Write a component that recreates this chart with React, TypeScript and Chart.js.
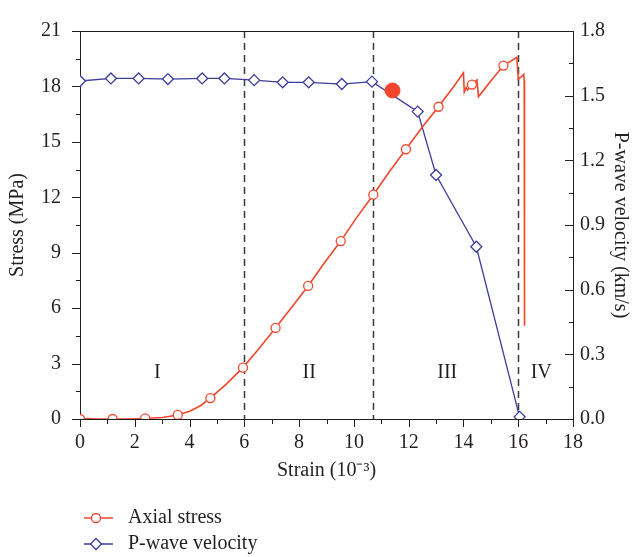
import React, { useEffect, useRef } from 'react';
import { Chart, registerables } from 'chart.js';

Chart.register(...registerables);

// ---- data ----
const stressStrain = [
  0, 0.3, 0.6, 1.19, 1.8, 2.38, 3.0, 3.57, 4.0, 4.4, 4.76, 5.35, 5.95, 6.5, 7.14, 7.7, 8.33, 8.9,
  9.52, 10.1, 10.71, 11.3, 11.9, 12.5, 13.09, 13.6, 14.0, 14.03, 14.1, 14.15, 14.31, 14.49, 14.55,
  15.0, 15.46, 15.95, 16.0, 16.1, 16.2, 16.22, 16.23,
];
const stressValues = [
  0, 0.02, 0, 0, 0, 0.03, 0.08, 0.22, 0.42, 0.72, 1.13, 1.9, 2.78, 3.75, 4.93, 6.0, 7.2, 8.4,
  9.63, 10.9, 12.14, 13.4, 14.6, 15.8, 16.9, 17.9, 18.74, 17.7, 17.95, 17.8, 18.1, 18.35, 17.45,
  18.3, 19.13, 19.57, 18.4, 18.5, 18.65, 18.3, 5.05,
];
const stressMarkerStrain = [0, 1.19, 2.38, 3.57, 4.76, 5.95, 7.14, 8.33, 9.52, 10.71, 11.9, 13.09, 14.31, 15.46];

const velocityStrain = [0, 1.13, 2.14, 3.21, 4.46, 5.27, 6.36, 7.4, 8.35, 9.56, 10.66, 12.33, 13.0, 14.47, 16.05];
const velocityValues = [1.568, 1.58, 1.58, 1.577, 1.58, 1.58, 1.572, 1.562, 1.562, 1.554, 1.565, 1.426, 1.132, 0.799, 0.01];

const highlightStrain = [11.41];
const highlightVelocity = [1.524];

const stageBoundaries = [6, 10.7, 16];
const stageLabels = ['I', 'II', 'III', 'IV'];
const stageLabelStrain = [2.82, 8.37, 13.41, 16.84];
const stageLabelStress = [2.5, 2.5, 2.5, 2.5];

const seriesNames = ['Axial stress', 'P-wave velocity'];
const axisTitles = ['Strain (10⁻³)', 'Stress (MPa)', 'P-wave velocity (km/s)'];

// ---- styles ----
const RED = '#f2462c';
const BLUE = '#3c3c9c';
const INK = '#231f20';
const FONT = "'Liberation Serif', 'Times New Roman', serif";

const markerSet = new Set(stressMarkerStrain);

const decorPlugin = {
  id: 'decor',
  beforeDatasetsDraw(chart: any) {
    const { ctx, chartArea: a, scales } = chart;
    ctx.save();
    ctx.strokeStyle = '#3a3a3a';
    ctx.lineWidth = 1.5;
    ctx.setLineDash([7, 5]);
    stageBoundaries.forEach((s) => {
      const x = Math.round(scales.x.getPixelForValue(s)) + 0.5;
      ctx.beginPath();
      ctx.moveTo(x, a.top);
      ctx.lineTo(x, a.bottom);
      ctx.stroke();
    });
    ctx.setLineDash([]);
    ctx.fillStyle = INK;
    ctx.font = `20px ${FONT}`;
    ctx.textAlign = 'center';
    ctx.textBaseline = 'middle';
    stageLabels.forEach((t, i) => {
      ctx.fillText(t, scales.x.getPixelForValue(stageLabelStrain[i]), scales.y.getPixelForValue(stageLabelStress[i]));
    });
    ctx.restore();
  },
  afterDraw(chart: any) {
    const { ctx, chartArea: a, scales } = chart;
    ctx.save();
    ctx.strokeStyle = INK;
    ctx.lineWidth = 1;
    const seg = (x1: number, y1: number, x2: number, y2: number) => {
      ctx.beginPath();
      ctx.moveTo(x1, y1);
      ctx.lineTo(x2, y2);
      ctx.stroke();
    };
    const top = Math.round(a.top) + 0.5;
    seg(a.left, top, a.right, top);
    // left ticks
    for (let i = 0; i <= 14; i++) {
      const v = i * 1.5;
      const y = Math.round(scales.y.getPixelForValue(v)) + 0.5;
      const len = i % 2 === 0 ? 8 : 4;
      seg(a.left - len, y, a.left, y);
    }
    // bottom ticks
    for (let i = 0; i <= 18; i++) {
      const x = Math.round(scales.x.getPixelForValue(i)) + 0.5;
      const len = i % 2 === 0 ? 8 : 5;
      seg(x, a.bottom, x, a.bottom + len);
    }
    // right ticks (inward)
    for (let i = 0; i <= 12; i++) {
      const v = i * 0.15;
      const y = Math.round(scales.y2.getPixelForValue(v)) + 0.5;
      const len = i % 2 === 0 ? 8 : 4;
      seg(a.right - len, y, a.right, y);
    }
    // legend
    const legendY = [518, 544];
    const colors = [RED, BLUE];
    legendY.forEach((y, i) => {
      ctx.strokeStyle = colors[i];
      ctx.lineWidth = 1.5;
      seg(84, y, 113, y);
      ctx.fillStyle = '#fff';
      ctx.lineWidth = 1.3;
      ctx.beginPath();
      if (i === 0) {
        ctx.arc(96, y, 4.5, 0, Math.PI * 2);
      } else {
        const r = 5.5;
        ctx.moveTo(96, y - r);
        ctx.lineTo(96 + r, y);
        ctx.lineTo(96, y + r);
        ctx.lineTo(96 - r, y);
        ctx.closePath();
      }
      ctx.fill();
      ctx.stroke();
      ctx.fillStyle = INK;
      ctx.font = `20px ${FONT}`;
      ctx.textAlign = 'left';
      ctx.textBaseline = 'middle';
      ctx.fillText(seriesNames[i], 128, y);
    });
    ctx.restore();
  },
};

export default function App() {
  const ref = useRef<HTMLCanvasElement | null>(null);
  useEffect(() => {
    if (!ref.current) return;
    const tickFont = { family: FONT, size: 20 };
    const areaClip = { left: 0, top: 2, right: 2, bottom: 0 };
    const chart = new Chart(ref.current, {
      type: 'line',
      data: {
        datasets: [
          {
            label: 'highlight',
            data: highlightStrain.map((x, i) => ({ x, y: highlightVelocity[i] })),
            yAxisID: 'y2',
            showLine: false,
            pointRadius: 7.5,
            pointBackgroundColor: RED,
            pointBorderColor: RED,
            borderColor: RED,
          },
          {
            label: seriesNames[0],
            data: stressStrain.map((x, i) => ({ x, y: stressValues[i] })),
            yAxisID: 'y',
            clip: areaClip,
            borderColor: RED,
            borderWidth: 1.6,
            tension: 0,
            pointRadius: (c: any) => (markerSet.has(stressStrain[c.dataIndex]) ? 4.5 : 0),
            pointHoverRadius: 0,
            pointBackgroundColor: '#fff',
            pointBorderColor: RED,
            pointBorderWidth: 1.3,
          },
          {
            label: seriesNames[1],
            data: velocityStrain.map((x, i) => ({ x, y: velocityValues[i] })),
            yAxisID: 'y2',
            clip: areaClip,
            borderColor: BLUE,
            borderWidth: 1.3,
            tension: 0,
            pointStyle: 'rectRot',
            pointRadius: 5.5,
            pointBackgroundColor: '#fff',
            pointBorderColor: BLUE,
            pointBorderWidth: 1.3,
          },
        ],
      },
      options: {
        animation: false,
        responsive: true,
        maintainAspectRatio: false,
        events: [],
        layout: { padding: { top: 21, left: 0, right: 0, bottom: 71 } },
        plugins: { legend: { display: false }, tooltip: { enabled: false } },
        scales: {
          x: {
            type: 'linear',
            min: 0,
            max: 18,
            afterFit: (s: any) => { s.height = 67; },
            ticks: { stepSize: 2, font: tickFont, color: INK, padding: 12, maxRotation: 0 },
            grid: { drawOnChartArea: false, drawTicks: false },
            border: { display: true, color: INK, width: 1 },
            title: { display: true, text: axisTitles[0], font: tickFont, color: INK, padding: { top: 0, bottom: 3 } },
          },
          y: {
            type: 'linear',
            position: 'left',
            min: 0,
            max: 21,
            afterFit: (s: any) => { s.width = 80; },
            ticks: { stepSize: 3, font: tickFont, color: INK, padding: 19 },
            grid: { drawOnChartArea: false, drawTicks: false },
            border: { display: true, color: INK, width: 1 },
            title: { display: true, text: axisTitles[1], font: tickFont, color: INK, padding: { top: 6, bottom: 0 } },
          },
          y2: {
            type: 'linear',
            position: 'right',
            min: 0,
            max: 1.8,
            afterFit: (s: any) => { s.width = 61; },
            ticks: { stepSize: 0.3, font: tickFont, color: INK, padding: 7, callback: (v: any) => Number(v).toFixed(1) },
            grid: { drawOnChartArea: false, drawTicks: false },
            border: { display: true, color: INK, width: 1 },
            title: { display: true, text: axisTitles[2], font: tickFont, color: INK, padding: { top: 2, bottom: 0 } },
          },
        },
      },
      plugins: [decorPlugin],
    } as any);
    return () => chart.destroy();
  }, []);
  return (
    <div style={{ position: 'absolute', left: 0, top: 0, width: 634, height: 557 }}>
      <canvas ref={ref} />
    </div>
  );
}
